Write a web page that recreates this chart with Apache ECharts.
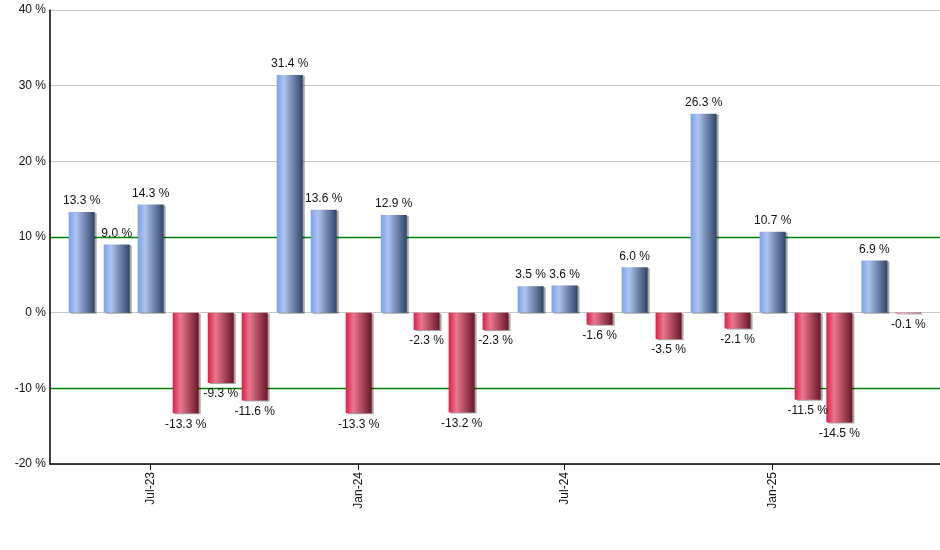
<!DOCTYPE html>
<html>
<head>
<meta charset="utf-8">
<script src="https://cdn.jsdelivr.net/npm/echarts@6/dist/echarts.min.js"></script>
<style>
  html, body { margin: 0; padding: 0; background: #fff; }
  #chart { width: 940px; height: 550px; }
</style>
</head>
<body>
<div id="chart"></div>
<script>
// monthly returns, one bar per month start
var months = ['2023-05-01', '2023-06-01', '2023-07-01', '2023-08-01', '2023-09-01', '2023-10-01',
    '2023-11-01', '2023-12-01', '2024-01-01', '2024-02-01', '2024-03-01', '2024-04-01',
    '2024-05-01', '2024-06-01', '2024-07-01', '2024-08-01', '2024-09-01', '2024-10-01',
    '2024-11-01', '2024-12-01', '2025-01-01', '2025-02-01', '2025-03-01', '2025-04-01', '2025-05-01'];
var returns = [13.3, 9.0, 14.3, -13.3, -9.3, -11.6,
    31.4, 13.6, -13.3, 12.9, -2.3, -13.2,
    -2.3, 3.5, 3.6, -1.6, 6.0, -3.5,
    26.3, -2.1, 10.7, -11.5, -14.5, 6.9, -0.1];
var yTicks = [-20, -10, 0, 10, 20, 30, 40];
var bandLines = [10, -10];
var monthNames = ['Jan', 'Feb', 'Mar', 'Apr', 'May', 'Jun', 'Jul', 'Aug', 'Sep', 'Oct', 'Nov', 'Dec'];

var blueGrad = new echarts.graphic.LinearGradient(0, 0, 1, 0, [
    { offset: 0, color: '#7aa2ee' },
    { offset: 0.28, color: '#aec3ee' },
    { offset: 1, color: '#2f4468' }
]);
var redGrad = new echarts.graphic.LinearGradient(0, 0, 1, 0, [
    { offset: 0, color: '#dc1f48' },
    { offset: 0.3, color: '#e9778f' },
    { offset: 1, color: '#6a1626' }
]);

var barData = months.map(function (m, i) {
    var v = returns[i];
    return {
        value: [m, v],
        itemStyle: { color: v >= 0 ? blueGrad : redGrad },
        label: { position: v >= 0 ? 'top' : 'bottom' }
    };
});

var option = {
    animation: false,
    backgroundColor: '#fff',
    grid: { left: 50, right: 0, top: 10, bottom: 86 },
    xAxis: {
        type: 'time',
        // echarts pads the extent by half a bar on each side
        min: '2023-04-14T12:00:00',
        max: '2025-05-17T12:00:00',
        splitNumber: 4,
        minInterval: 181 * 86400000,
        axisLine: { onZero: false, lineStyle: { color: '#000', width: 1.5 } },
        axisTick: { show: true, length: 6, lineStyle: { color: '#000' } },
        splitLine: { show: false },
        axisLabel: {
            rotate: 90,
            color: '#111',
            fontFamily: 'Liberation Sans',
            fontSize: 12,
            hideOverlap: false,
            formatter: function (val) {
                var d = new Date(val);
                return monthNames[d.getMonth()] + '-' + String(d.getFullYear()).slice(2);
            }
        }
    },
    yAxis: {
        type: 'value',
        min: yTicks[0],
        max: yTicks[yTicks.length - 1],
        interval: 10,
        axisLine: { show: true, lineStyle: { color: '#000', width: 1.5 } },
        axisTick: { show: false },
        axisLabel: {
            color: '#111',
            fontFamily: 'Liberation Sans',
            fontSize: 12,
            margin: 4,
            formatter: '{value} %'
        },
        splitLine: { show: true, lineStyle: { color: '#c8c8c8', width: 1 } }
    },
    series: [{
        type: 'bar',
        barWidth: 26,
        data: barData,
        itemStyle: {
            shadowColor: 'rgba(0,0,0,0.35)',
            shadowOffsetX: 2,
            shadowOffsetY: 1,
            shadowBlur: 0
        },
        label: {
            show: true,
            distance: 5,
            color: '#111',
            fontFamily: 'Liberation Sans',
            fontSize: 12,
            formatter: function (p) {
                return p.value[1].toFixed(1) + ' %';
            }
        },
        markLine: {
            silent: true,
            z: 1,
            symbol: 'none',
            label: { show: false },
            emphasis: { disabled: true },
            data: bandLines.map(function (v) {
                return { yAxis: v, lineStyle: { color: '#008000', type: 'solid', width: 1.3, opacity: 1 } };
            })
        }
    }]
};

var myChart = echarts.init(document.getElementById('chart'));
myChart.setOption(option);
</script>
</body>
</html>
